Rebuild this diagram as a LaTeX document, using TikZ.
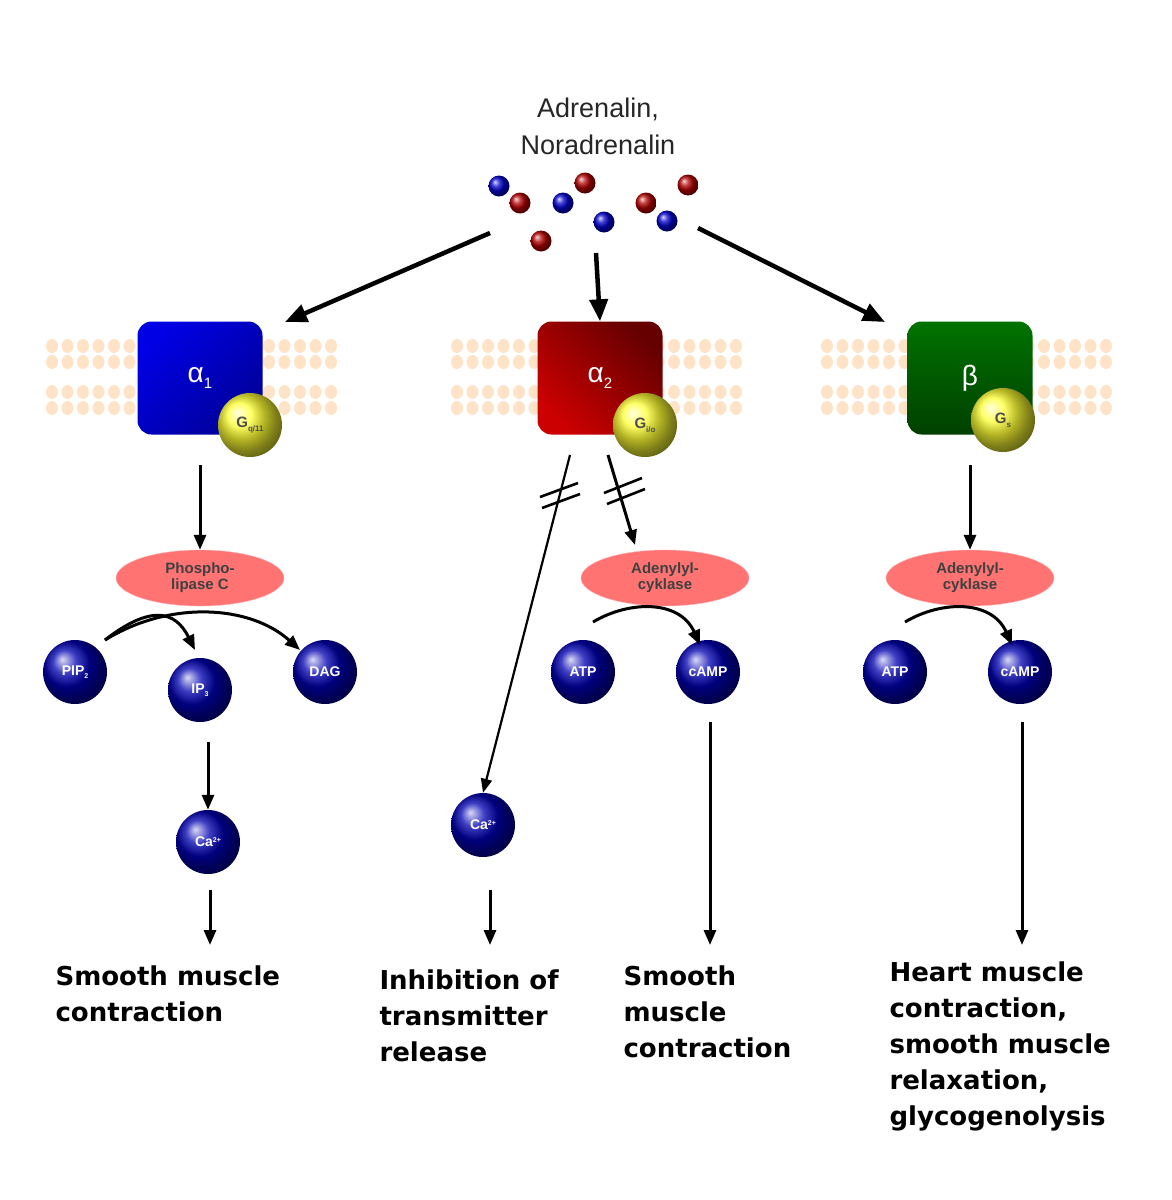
\documentclass[tikz,border=0pt]{standalone}
\usepackage{fontspec}
\setmainfont{Liberation Sans}
\newfontfamily\dvb{DejaVu Sans}
\usetikzlibrary{arrows.meta,shapes.geometric}
\begin{document}
\begin{tikzpicture}[x=1pt,y=-1pt,
  arr/.style={-{Triangle[length=15pt,width=12pt]},line width=3pt},
  thin/.style={-{Triangle[length=14pt,width=11pt]},line width=2.2pt},
  big/.style={-{Triangle[length=22pt,width=18pt]},line width=4.5pt},
  mol/.style={circle,minimum size=64pt,inner sep=0pt,ball color=blue!70!black,text=white,font=\bfseries\fontsize{14}{14}\selectfont},
  gp/.style={circle,minimum size=64pt,inner sep=0pt,ball color=yellow!80,text=black!70,font=\bfseries\fontsize{15}{15}\selectfont},
  enz/.style={ellipse,minimum width=168pt,minimum height=56pt,inner sep=0pt,fill=red!55,draw=red!30,align=center,text=black!75,font=\bfseries\fontsize{15}{16}\selectfont},
  rec/.style={rounded corners=14pt,minimum width=125pt,minimum height=113pt,text=white,font=\fontsize{28}{28}\selectfont},
  lab/.style={anchor=north west,align=left,font=\dvb\bfseries\fontsize{26}{36}\selectfont},
  rd/.style={circle,minimum size=21pt,inner sep=0pt,ball color=red!70!black},
  bd/.style={circle,minimum size=21pt,inner sep=0pt,ball color=blue!80!black}]
\useasboundingbox (0,0) rectangle (1171,1200);
\fill[white] (0,0) rectangle (1171,1200);
\node[font=\fontsize{27}{37}\selectfont,align=center,text=black!85] (title) at (598,126) {Adrenalin,\\Noradrenalin};
\node[bd] (d1) at (499,186) {}; \node[bd] (d2) at (563,203) {}; \node[bd] (d3) at (604,222) {}; \node[bd] (d4) at (667,221) {};
\node[rd] (d5) at (585,183) {}; \node[rd] (d6) at (520,203) {}; \node[rd] (d7) at (688,185) {}; \node[rd] (d8) at (646,203) {}; \node[rd] (d9) at (541,241) {};
% membranes
\foreach \xa in {52,457,827}{
  \foreach \i in {0,...,18}{
    \foreach \y in {346,362,392,408}{
      \fill[orange!22] ({\xa+15.5*\i},\y) ellipse (6pt and 7pt);}}}
\node[rec,shading=axis,left color=blue!90!black,right color=blue!60!black,shading angle=45] (a1) at (200,378) {α\raisebox{-6pt}{\fontsize{15}{15}\selectfont 1}};
\node[rec,shading=axis,top color=red!40!black,bottom color=red!80!black,shading angle=-45] (a2) at (600,378) {α\raisebox{-6pt}{\fontsize{15}{15}\selectfont 2}};
\node[rec,shading=axis,top color=green!45!black,bottom color=green!25!black] (b) at (970,378) {β};
\node[gp] (g1) at (250,425) {G\raisebox{-4pt}{\fontsize{8}{8}\selectfont q/11}};
\node[gp] (g2) at (645,425) {G\raisebox{-4pt}{\fontsize{8}{8}\selectfont i/o}};
\node[gp] (g3) at (1003,420) {G\raisebox{-4pt}{\fontsize{8}{8}\selectfont s}};
\coordinate (s1) at (490,233); \coordinate (s2) at (596,253); \coordinate (s3) at (698,228);
\coordinate (e1) at (285,322); \coordinate (e3) at (885,322);
\draw[big] (s1) -- (e1);
\draw[big] (s2) -- (a2.north);
\draw[big] (s3) -- (e3);
% enzymes
\node[enz] (plc) at (200,578) {Phospho-\\lipase C};
\node[enz] (ac1) at (665,578) {Adenylyl-\\cyklase};
\node[enz] (ac2) at (970,578) {Adenylyl-\\cyklase};
\coordinate (t1) at (200,465); \coordinate (t3) at (970,465);
\draw[arr] (t1) -- (plc.north);
\draw[arr] (t3) -- (ac2.north);
% molecules
\node[mol] (pip) at (75,672) {PIP\raisebox{-3pt}{\fontsize{7}{7}\selectfont 2}};
\node[mol] (ip3) at (200,690) {IP\raisebox{-3pt}{\fontsize{7}{7}\selectfont 3}};
\node[mol] (dag) at (325,672) {DAG};
\node[mol] (atp1) at (583,672) {ATP};
\node[mol] (camp1) at (708,672) {cAMP};
\node[mol] (atp2) at (895,672) {ATP};
\node[mol] (camp2) at (1020,672) {cAMP};
\node[mol] (ca1) at (208,842) {Ca\raisebox{4pt}{\fontsize{7}{7}\selectfont 2+}};
\node[mol] (ca2) at (483,825) {Ca\raisebox{4pt}{\fontsize{7}{7}\selectfont 2+}};
% curved arrows
\coordinate (c1) at (105,640);
\draw[arr] (c1) .. controls (150,605) and (175,610) .. (195,650);
\draw[arr] (c1) .. controls (170,600) and (250,605) .. (300,650);
\coordinate (c2) at (593,622); \coordinate (c3) at (905,622);
\draw[arr] (c2) .. controls (630,600) and (680,600) .. (700,645);
\draw[arr] (c3) .. controls (942,600) and (992,600) .. (1012,645);
% alpha2 inhibited arrows
\coordinate (i1) at (570,455); \coordinate (i2) at (608,455); \coordinate (i3) at (635,545);
\draw[thin] (i1) -- (ca2.north);
\draw[arr] (i2) -- (i3);
\draw[line width=2.6pt] (540,497) -- (578,483) (542,508) -- (580,494);
\draw[line width=2.6pt] (604,493) -- (642,478) (607,504) -- (645,489);
% downward arrows
\coordinate (y1) at (208,742); \coordinate (y2) at (210,890); \coordinate (y3) at (210,945);
\draw[arr] (y1) -- (ca1.north);
\draw[arr] (y2) -- (y3);
\coordinate (x2) at (490,890); \coordinate (x3) at (490,945); \draw[arr] (x2) -- (x3);
\coordinate (z1) at (710,722); \coordinate (z2) at (710,945); \draw[arr] (z1) -- (z2);
\coordinate (w1) at (1022,722); \coordinate (w2) at (1022,945); \draw[arr] (w1) -- (w2);
% labels
\node[lab] (l1) at (52,962) {Smooth muscle\\contraction};
\node[lab] (l2) at (376,966) {Inhibition of\\transmitter\\release};
\node[lab] (l3) at (620,962) {Smooth\\muscle\\contraction};
\node[lab] (l4) at (886,958) {Heart muscle\\contraction,\\smooth muscle\\relaxation,\\glycogenolysis};
\end{tikzpicture}
\end{document}
